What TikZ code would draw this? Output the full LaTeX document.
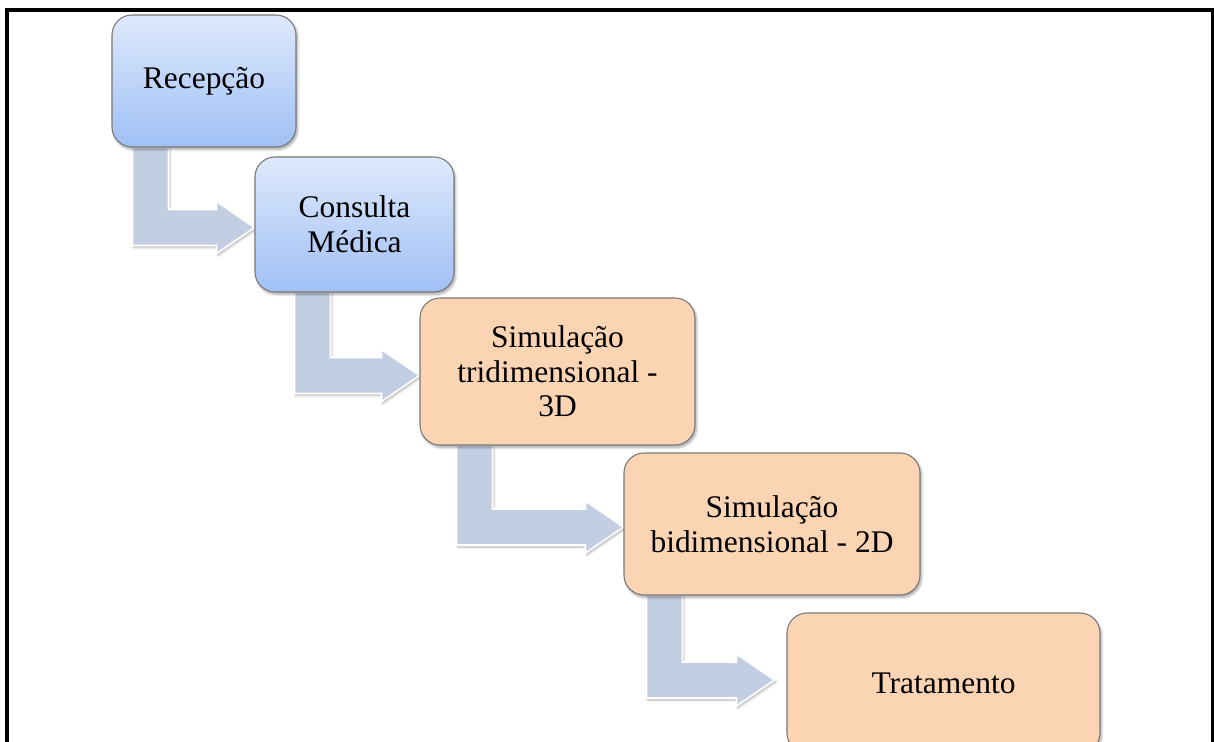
\documentclass[tikz,border=0pt]{standalone}
\usepackage{fontspec}
\setmainfont{Liberation Serif}
\usetikzlibrary{calc,shadows.blur,backgrounds}
\definecolor{arrowfill}{RGB}{196,206,226}
\definecolor{bluetop}{RGB}{222,233,252}
\definecolor{bluebot}{RGB}{160,192,245}
\definecolor{peach}{RGB}{251,212,180}
\definecolor{boxline}{RGB}{120,120,120}
\tikzset{
  stepbox/.style={draw=boxline, line width=0.8pt, rounded corners=15pt, align=center,
    font=\fontsize{23.6}{25.9}\selectfont, inner sep=0pt,
    blur shadow={shadow xshift=1.2pt, shadow yshift=-1.8pt, shadow blur steps=6, shadow opacity=35}},
  bluebox/.style={stepbox, top color=bluetop, bottom color=bluebot},
  peachbox/.style={stepbox, fill=peach},
  bentarrow/.style={fill=arrowfill, draw=white, line width=1.2pt, line join=miter,
    blur shadow={shadow xshift=1pt, shadow yshift=-1.5pt, shadow blur steps=5, shadow opacity=30}},
  framestyle/.style={draw=black, line width=3pt}
}
% #1 from node, #2 to node, #3 shaft offset (px), #4 bar y offset (px), #5 tip gap (px)
\newcommand{\bentarr}[5]{%
  \path ($(#1.south west)+(#3,0)$) coordinate (s1)
        ($(#1.south west)+(#3+36,0)$) coordinate (s2)
        ($(#2.west)+(-#5,#4)$) coordinate (tip);
  \draw[bentarrow] (s1) -- (s2) -- ($(s2 |- tip)+(0,-18)$) -- ($(tip)+(-38,-18)$)
     -- ($(tip)+(-38,-26)$) -- (tip) -- ($(tip)+(-38,26)$) -- ($(tip)+(-38,18)$)
     -- ($(s1 |- tip)+(0,18)$) -- cycle;
}
\begin{document}
\begin{tikzpicture}[x=0.75pt, y=-0.75pt]
\useasboundingbox (0,0) rectangle (1214,742);
\draw[framestyle] (7,760) -- (7,10.5) -- (1212.5,10.5) -- (1212.5,760);

\node[bluebox, minimum width={184*0.75pt}, minimum height={132*0.75pt}] (b1) at (204,81) {Recepção};
\node[bluebox, minimum width={199*0.75pt}, minimum height={135*0.75pt}] (b2) at (354.5,224.5) {Consulta\\Médica};
\node[peachbox, minimum width={275*0.75pt}, minimum height={147*0.75pt}] (b3) at (557.5,371.5) {Simulação\\tridimensional -\\3D};
\node[peachbox, minimum width={296*0.75pt}, minimum height={142*0.75pt}] (b4) at (772,524) {Simulação\\bidimensional - 2D};
\node[peachbox, minimum width={313*0.75pt}, minimum height={140*0.75pt}] (b5) at (943.5,683) {Tratamento};

\begin{pgfonlayer}{background}
\bentarr{b1}{b2}{21}{3}{0}
\bentarr{b2}{b3}{40}{4}{0}
\bentarr{b3}{b4}{37}{3}{0}
\bentarr{b4}{b5}{23}{-3}{12}
\end{pgfonlayer}
\end{tikzpicture}
\end{document}
